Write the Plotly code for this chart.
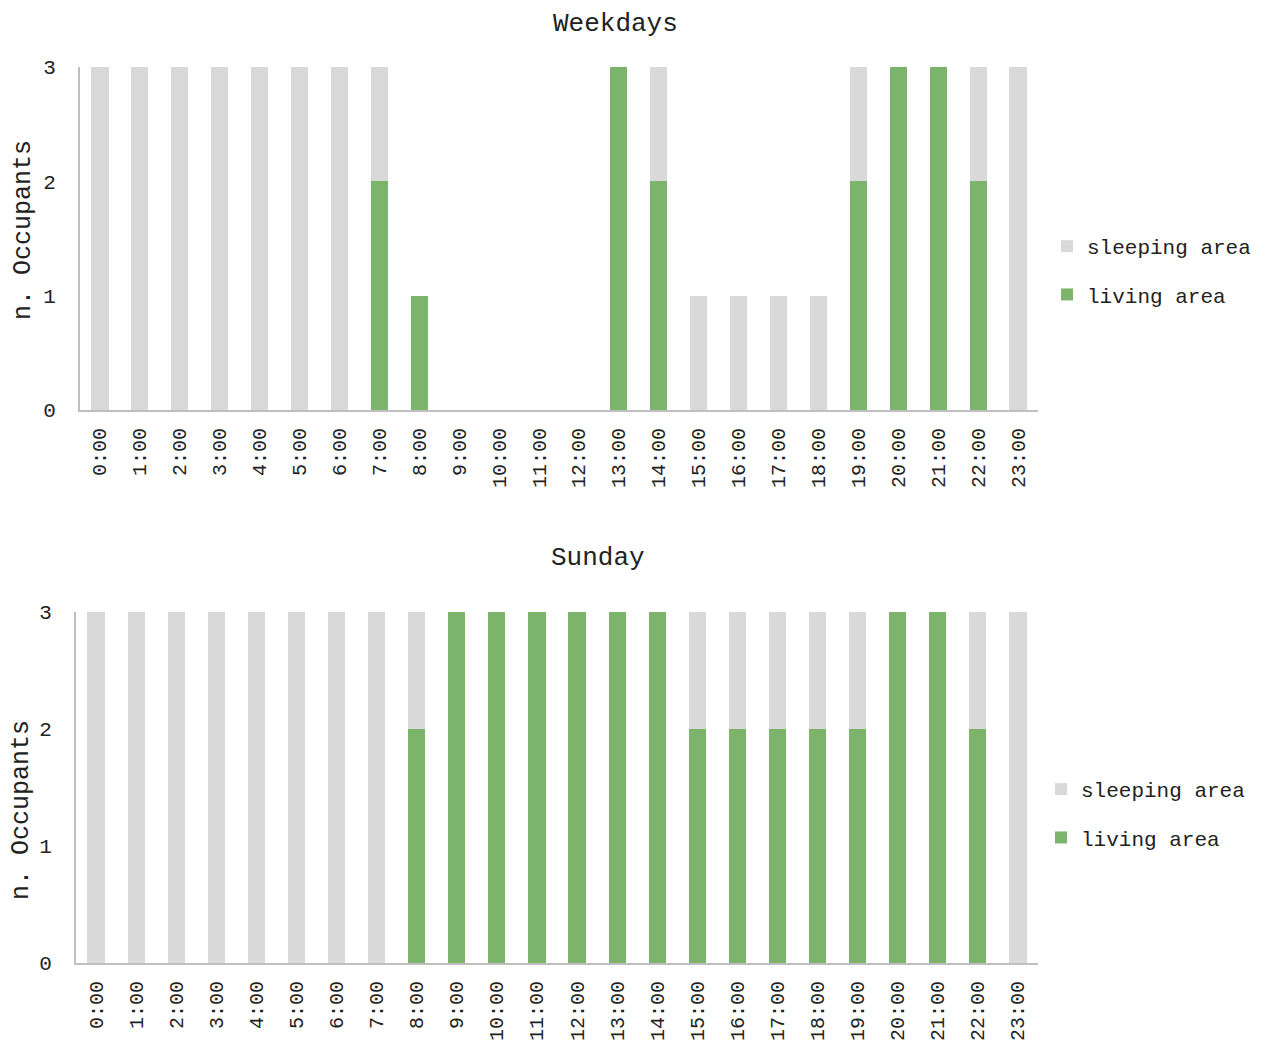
import plotly.graph_objects as go

hours = ['%d:00' % h for h in range(24)]

# weekdays
wk_living = [0, 0, 0, 0, 0, 0, 0, 2, 1, 0, 0, 0, 0, 3, 2, 0, 0, 0, 0, 2, 3, 3, 2, 0]
wk_sleeping = [3, 3, 3, 3, 3, 3, 3, 1, 0, 0, 0, 0, 0, 0, 1, 1, 1, 1, 1, 1, 0, 0, 1, 3]

# sunday
su_living = [0, 0, 0, 0, 0, 0, 0, 0, 2, 3, 3, 3, 3, 3, 3, 2, 2, 2, 2, 2, 3, 3, 2, 0]
su_sleeping = [3, 3, 3, 3, 3, 3, 3, 3, 1, 0, 0, 0, 0, 0, 0, 1, 1, 1, 1, 1, 0, 0, 1, 3]

green = '#7db46c'
grey = '#d9d9d9'
font = 'Liberation Mono'
txt = '#222'
W, H = 1269, 1052
OFF = 8  # page body margin

def px_x(p):
    return (p - OFF) / W

def px_y(p):
    return 1 - (p - OFF) / H

fig = go.Figure()
fig.add_bar(x=hours, y=wk_living, name='living area', marker_color=green,
            xaxis='x', yaxis='y', legend='legend', legendrank=2, legendgroup='wl')
fig.add_bar(x=hours, y=wk_sleeping, name='sleeping area', marker_color=grey,
            xaxis='x', yaxis='y', legend='legend', legendrank=1, legendgroup='ws')
fig.add_bar(x=hours, y=su_living, name='living area', marker_color=green,
            xaxis='x2', yaxis='y2', legend='legend2', legendrank=2, legendgroup='sl')
fig.add_bar(x=hours, y=su_sleeping, name='sleeping area', marker_color=grey,
            xaxis='x2', yaxis='y2', legend='legend2', legendrank=1, legendgroup='ss')
fig.update_traces(marker_line_width=0)

xax = dict(showgrid=False, showline=True, linecolor='#bfbfbf', linewidth=2,
           ticks='', tickangle=-90, tickfont=dict(size=20, color=txt),
           ticklabelstandoff=8, automargin=False, fixedrange=True)
yax = dict(showgrid=False, showline=True, linecolor='#bfbfbf', linewidth=2,
           ticks='', range=[0, 3], tickvals=[0, 1, 2, 3], zeroline=False,
           tickfont=dict(size=21, color=txt), ticklabelstandoff=18, automargin=False,
           fixedrange=True)

leg = dict(font=dict(size=21, color=txt, family=font), traceorder='grouped',
           tracegroupgap=18, itemwidth=30, bgcolor='rgba(0,0,0,0)')

ann = dict(xref='paper', yref='paper', showarrow=False, xanchor='center', yanchor='middle')

fig.update_layout(
    width=W, height=H,
    margin=dict(l=0, r=0, t=0, b=0),
    paper_bgcolor='white', plot_bgcolor='white',
    font=dict(family=font, color=txt),
    barmode='stack', bargap=0.57,
    xaxis=dict(xax, domain=[px_x(80), px_x(1038)], anchor='y'),
    yaxis=dict(yax, domain=[px_y(410), px_y(67)], anchor='x'),
    xaxis2=dict(xax, domain=[px_x(76), px_x(1038)], anchor='y2'),
    yaxis2=dict(yax, domain=[px_y(963), px_y(612)], anchor='x2'),
    legend=dict(leg, x=px_x(1047), y=px_y(226), xanchor='left', yanchor='top'),
    legend2=dict(leg, x=px_x(1041), y=px_y(769), xanchor='left', yanchor='top'),
    annotations=[
        dict(ann, text='Weekdays', x=px_x(615), y=1, yanchor='top', borderpad=0,
             font=dict(size=26, color=txt)),
        dict(ann, text='Sunday', x=px_x(598), y=px_y(558), font=dict(size=26, color=txt)),
        dict(ann, text='n. Occupants', x=px_x(24), y=px_y(230), textangle=-90,
             font=dict(size=25, color=txt)),
        dict(ann, text='n. Occupants', x=px_x(21), y=px_y(810), textangle=-90,
             font=dict(size=25, color=txt)),
    ],
)

fig.write_html('out.html')
